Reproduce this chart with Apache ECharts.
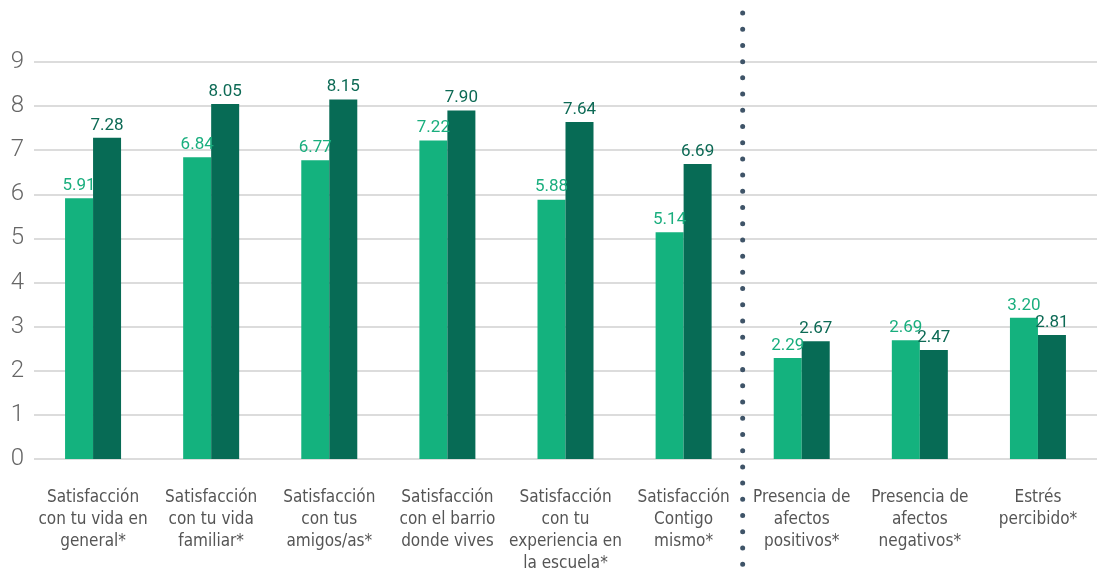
<!DOCTYPE html>
<html><head><meta charset="utf-8">
<script src="https://cdn.jsdelivr.net/npm/echarts@6/dist/echarts.min.js"></script>
<style>html,body{margin:0;padding:0;background:#fff}#c{width:1097px;height:575px}</style>
</head><body><div id="c"></div>
<script>
var categories = ["Satisfacción\ncon tu vida en\ngeneral*", "Satisfacción\ncon tu vida\nfamiliar*", "Satisfacción\ncon tus\namigos/as*", "Satisfacción\ncon el barrio\ndonde vives", "Satisfacción\ncon tu\nexperiencia en\nla escuela*", "Satisfacción\nContigo\nmismo*", "Presencia de\nafectos\npositivos*", "Presencia de\nafectos\nnegativos*", "Estrés\npercibido*"];
var seriesA = [5.91, 6.84, 6.77, 7.22, 5.88, 5.14, 2.29, 2.69, 3.20];
var seriesB = [7.28, 8.05, 8.15, 7.90, 7.64, 6.69, 2.67, 2.47, 2.81];
var dividerAfter = 5; // divider between category index 5 and 6

var CAT_FONT = "'DejaVu Sans Condensed', 'Roboto', sans-serif";
var NUM_FONT = "'Roboto', 'DejaVu Sans Condensed', sans-serif";
var chart = echarts.init(document.getElementById('c'), null, {renderer: 'canvas'});
var option = {
  animation: false,
  grid: {left: 34, right: -5, top: 62, bottom: 115, containLabel: false},
  xAxis: {
    type: 'category', data: categories,
    axisLine: {show: false}, axisTick: {show: false},
    axisLabel: {interval: 0, margin: 28, fontFamily: CAT_FONT, fontSize: 17, color: '#555', lineHeight: 22, verticalAlign: 'top'}
  },
  yAxis: {
    type: 'value', min: 0, max: 9, interval: 1,
    axisLine: {show: false}, axisTick: {show: false},
    axisLabel: {margin: 10, fontFamily: NUM_FONT, fontSize: 24, color: '#666', fontWeight: 300},
    splitLine: {lineStyle: {color: '#dcdcdc', width: 2}}
  },
  series: [
    {type: 'bar', data: seriesA, barWidth: 28, barGap: '0%',
     itemStyle: {color: '#14b27e'},
     label: {show: true, position: 'top', distance: 4, formatter: function(p){return p.value.toFixed(2);}, fontFamily: NUM_FONT, fontSize: 17, color: '#1aae7e'}},
    {type: 'bar', data: seriesB, barWidth: 28, barGap: '0%',
     itemStyle: {color: '#076b55'},
     label: {show: true, position: 'top', distance: 4, formatter: function(p){return p.value.toFixed(2);}, fontFamily: NUM_FONT, fontSize: 17, color: '#0d6a55'}}
  ]
};
chart.setOption(option);
var x1 = chart.convertToPixel({xAxisIndex: 0}, dividerAfter);
var x2 = chart.convertToPixel({xAxisIndex: 0}, dividerAfter + 1);
var xd = (x1 + x2) / 2;
chart.setOption({graphic: [{
  type: 'line', shape: {x1: xd, y1: 13, x2: xd, y2: 575},
  style: {stroke: '#3f5468', lineWidth: 5, lineDash: [0.01, 16.2], lineCap: 'round'}, z: 10
}]});
</script></body></html>
